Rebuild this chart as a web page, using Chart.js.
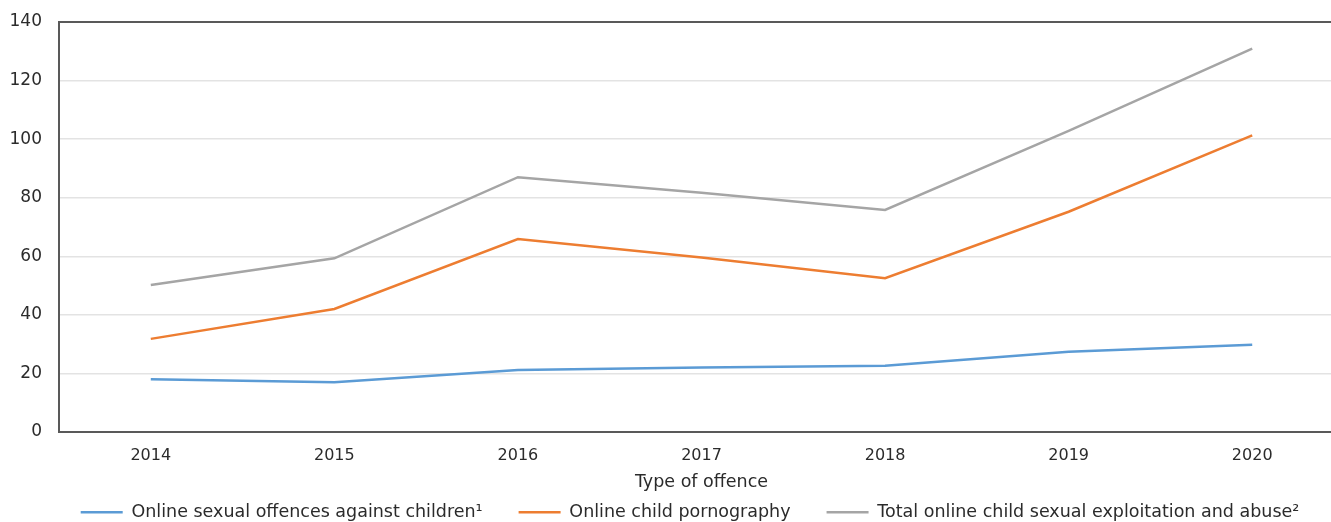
<!DOCTYPE html>
<html>
<head>
<meta charset="utf-8">
<script src="https://cdn.jsdelivr.net/npm/chart.js@4"></script>
<style>
  html, body { margin: 0; padding: 0; background: #fff; overflow: hidden; }
  #wrap { width: 1380px; height: 531px; position: relative; }
</style>
</head>
<body>
<div id="wrap"><canvas id="c"></canvas></div>
<script>
const categories = ['2014', '2015', '2016', '2017', '2018', '2019', '2020'];
const seriesNames = [
  'Online sexual offences against children\u00B9',
  'Online child pornography',
  'Total online child sexual exploitation and abuse\u00B2'
];
const onlineSexualOffences = [18, 17, 21.2, 22, 22.6, 27.4, 29.8];
const onlineChildPornography = [31.8, 42, 65.9, 59.6, 52.5, 75.2, 101.3];
const totalOnlineAbuse = [50.2, 59.3, 87, 81.7, 75.8, 102.8, 130.9];
const yTicks = [0, 20, 40, 60, 80, 100, 120, 140];
const xAxisTitle = 'Type of offence';

const FONT = '"DejaVu Sans", Verdana, sans-serif';
const TXT = '#2b2b2b';

new Chart(document.getElementById('c'), {
  type: 'line',
  data: {
    labels: categories,
    datasets: [
      { label: seriesNames[0], data: onlineSexualOffences, borderColor: '#5B9BD5', backgroundColor: '#5B9BD5' },
      { label: seriesNames[1], data: onlineChildPornography, borderColor: '#ED7D31', backgroundColor: '#ED7D31' },
      { label: seriesNames[2], data: totalOnlineAbuse, borderColor: '#A5A5A5', backgroundColor: '#A5A5A5' }
    ].map(d => Object.assign(d, { borderWidth: 2.5, pointRadius: 0, pointHoverRadius: 0, tension: 0, fill: false }))
  },
  options: {
    responsive: true,
    maintainAspectRatio: false,
    animation: false,
    events: [],
    layout: { padding: { top: 22, left: 0, right: 0, bottom: 0 } },
    font: { family: FONT },
    scales: {
      x: {
        type: 'category',
        offset: true,
        grid: { display: false, drawTicks: false, offset: true },
        border: { display: true, color: '#595959', width: 2 },
        ticks: { color: TXT, font: { family: FONT, size: 16 }, padding: 14, maxRotation: 0 },
        title: { display: true, text: xAxisTitle, color: TXT, font: { family: FONT, size: 17.5 }, padding: { top: 0, bottom: -25 } },
        afterFit: (s) => { s.height = 35.5; s.paddingLeft = 0; s.paddingRight = 0; }
      },
      y: {
        min: 0, max: 140,
        afterBuildTicks: (s) => { s.ticks = yTicks.map(v => ({ value: v })); },
        afterFit: (s) => { s.width = 59; s.paddingTop = 0; s.paddingBottom = 0; },
        grid: {
          drawTicks: false,
          color: (ctx) => ctx.tick && ctx.tick.value === 140 ? '#595959' : '#e3e3e3',
          lineWidth: (ctx) => ctx.tick && ctx.tick.value === 140 ? 2 : 1.5
        },
        border: { display: true, color: '#595959', width: 2 },
        ticks: { color: TXT, font: { family: FONT, size: 17 }, padding: 17 }
      },
      yRightSpace: {
        type: 'linear',
        position: 'right',
        display: true,
        grid: { display: false, drawTicks: false },
        border: { display: false },
        ticks: { display: false },
        afterFit: (s) => { s.width = 36; s.paddingTop = 0; s.paddingBottom = 0; }
      }
    },
    plugins: {
      tooltip: { enabled: false },
      legend: {
        position: 'bottom',
        labels: {
          color: TXT,
          font: { family: FONT, size: 17.5 },
          usePointStyle: true,
          pointStyle: 'line',
          pointStyleWidth: 42,
          boxWidth: 42,
          padding: 36
        }
      }
    }
  }
});
</script>
</body>
</html>
